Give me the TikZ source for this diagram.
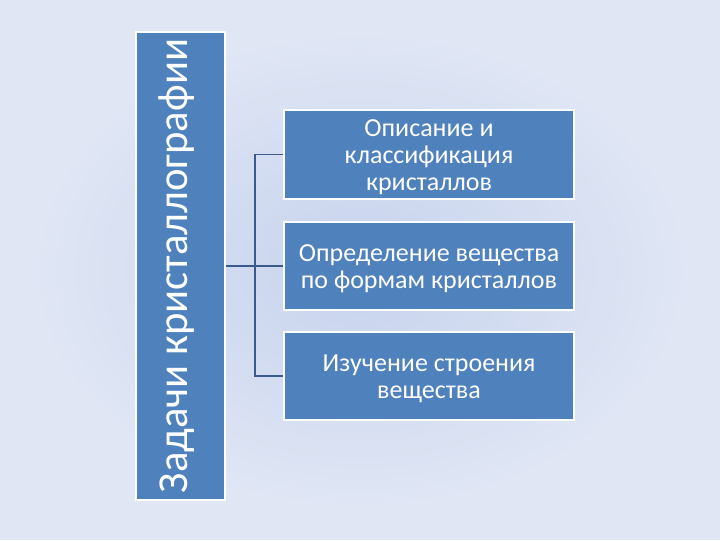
\documentclass[tikz,border=0pt]{standalone}
\usepackage{fontspec}
\setmainfont{Carlito}
\begin{document}
\begin{tikzpicture}[x=0.75pt,y=-0.75pt,
  boxst/.style={draw=white,line width=1.5pt,fill={rgb,255:red,79;green,129;blue,189},text=white,inner sep=0pt,align=center},
  boxtext/.style={font=\fontsize{19.5}{20.5}\selectfont,text=white,align=center,yshift=-2pt},
  conn/.style={draw={rgb,255:red,59;green,90;blue,140},line width=1.2pt}]
\useasboundingbox (0,0) rectangle (720,540);
\definecolor{bgout}{RGB}{224,230,244}
\definecolor{bgin}{RGB}{198,211,237}
\fill[bgout] (0,0) rectangle (720,540);
\shade[inner color=bgin,outer color=bgout] (30,30) rectangle (690,510);
\node[boxst,minimum width=351pt,minimum height=66.75pt,rotate=90,font=\fontsize{32}{36}\selectfont] (title) at (180.5,266) {\raisebox{-5pt}[0pt][0pt]{Задачи кристаллографии}};
\node[boxst,minimum width=217.5pt,minimum height=66.75pt,label={[boxtext]center:{Описание и\\классификация\\кристаллов}}] (b1) at (429,154.5) {};
\node[boxst,minimum width=217.5pt,minimum height=66pt,label={[boxtext]center:{Определение вещества\\по формам кристаллов}}] (b2) at (429,266) {};
\node[boxst,minimum width=217.5pt,minimum height=66pt,label={[boxtext]center:{Изучение строения\\вещества}}] (b3) at (429,376) {};
\coordinate (j) at (255,266);
\draw[conn] (title.south |- j) -- (j);
\draw[conn] (b1.west) -| (j) |- (b3.west);
\draw[conn] (j) -- (b2.west);
\end{tikzpicture}
\end{document}
